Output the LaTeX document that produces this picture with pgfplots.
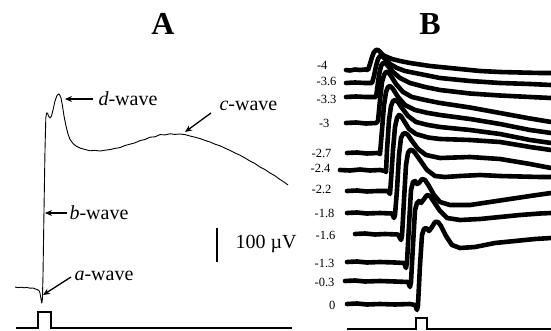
\documentclass[border=0pt]{standalone}
\usepackage{pgfplots}
\pgfplotsset{compat=1.18}
\usepackage{fontspec}
\setmainfont{Liberation Serif}
\usetikzlibrary{arrows.meta}
\tikzset{blab/.style={font=\fontsize{12.5}{14}\selectfont, anchor=east},
  lab/.style={font=\fontsize{20}{24}\selectfont, anchor=west},
  arr/.style={-{Stealth[length=7pt,width=6pt]}, line width=1.3pt}}
\pgfplotsset{btrace/.style={black, line width=4.6pt, line join=round, line cap=round}}
\begin{document}
\begin{tikzpicture}
\path[use as bounding box] (0,0) rectangle (551pt,331pt);
\begin{axis}[
  at={(0,0)}, anchor=south west,
  scale only axis, width=551pt, height=331pt,
  xmin=0, xmax=551, ymin=0, ymax=331, y dir=reverse,
  hide axis, clip=false,
]
% ---------- Panel A ----------
\addplot[black, line width=0.9pt, line join=round] coordinates {
(15,287)(18,287.6)(21,287.2)(24,287.8)(27,287.4)(30,288.2)(33,288)(35,288.8)(37,289.5)(39,290.5)(40,293)(41,299)(41.8,303)(42.4,299)
(43,275)(44,210)(45,150)(45.8,118)(46.6,113)(47.5,113)(48.5,116)(50,118)(51.5,116)(53,110)(55,101)(57,95.5)(58.5,94)(59.5,94.5)(61,98)
(62.5,106)(64,116)(66,126)(68,134)(70,139.5)(73,143.5)(76,146)(80,148)(85,149.5)(90,150.8)(95,150.4)(100,151)(105,150.2)(110,149.6)
(115,148.4)(120,147.6)(125,145.5)(130,144.2)(135,142.8)(140,140.6)(145,139.5)(150,137.2)(155,136.8)(160,134.6)(165,134.9)(170,133.8)
(175,134.4)(180,134)(185,134.6)(190,136)(195,137.2)(200,138.6)(205,140.4)(210,142)(215,144.2)(220,145.8)(225,148.2)(230,150.4)
(235,153)(240,155.2)(245,158)(250,161)(255,163.6)(260,167)(265,169.6)(270,173)(275,175.8)(280,179.5)(284,182)(288,185)
};
\addplot[black, line width=1.8pt] coordinates {(16,328)(38,328)(38,312)(51,312)(51,328)(292,328)};
\addplot[black, line width=1.8pt] coordinates {(217,228)(217,262)};
\node[lab] at (axis cs:232,244) {100 µV};
\draw[arr] (axis cs:93,99) -- (axis cs:65,99);
\node[lab] at (axis cs:95,99) {\textit{d}-wave};
\draw[arr] (axis cs:211,113) -- (axis cs:185,132);
\node[lab] at (axis cs:216,106) {\textit{c}-wave};
\draw[arr] (axis cs:67,213) -- (axis cs:45,213);
\node[lab] at (axis cs:66,213) {\textit{b}-wave};
\draw[arr] (axis cs:71,277) -- (axis cs:43,295);
\node[lab] at (axis cs:71,276) {\textit{a}-wave};
\node[font=\fontsize{32}{34}\selectfont\bfseries] at (axis cs:163,24) {A};
\node[font=\fontsize{32}{34}\selectfont\bfseries] at (axis cs:430,24) {B};
% ---------- Panel B ----------
\addplot[btrace] coordinates {(346,70)(350,70.5)(355,69.5)(360,70)(365,69.5)(368,70)(370,64)(372,57)(374,52)(376,50)(378,50)(380,52)(383,55)(387,57)(392,59)(400,61)(410,63)(420,64.5)(430,66)(440,67)(460,69)(480,71)(500,72)(520,72.5)(540,73)(551,73)};
\addplot[btrace] coordinates {(346,83)(355,82.5)(365,83)(372,83)(374,76)(376,66)(378,59)(380,56)(382,56)(385,59)(390,64)(397,68)(405,71)(420,74)(440,78)(470,81)(500,83)(530,84)(551,85)};
\addplot[btrace] coordinates {(346,97)(356,96.5)(366,97)(376,97)(377,90)(379,75)(381,66)(383,63)(385,63)(388,66)(393,72)(400,78)(410,83)(425,87)(440,90)(470,93.5)(500,95.5)(530,97)(551,98)};
\addplot[btrace] coordinates {(346,123)(356,122.5)(366,123.5)(376,123)(378,121)(380,100)(382,82)(384,75)(386,72)(388,72)(391,76)(396,84)(403,92)(412,97)(425,100)(440,103)(470,107.5)(500,113)(530,118.5)(551,122)};
\addplot[btrace] coordinates {(347,153)(357,152.5)(367,153.5)(378,153)(380,154)(382,130)(384,105)(386,92)(388,87)(390,86)(393,89)(398,97)(405,105)(415,110)(428,113)(440,115)(470,119)(500,124)(530,130)(551,133)};
\addplot[btrace] coordinates {(340,170)(350,170.5)(360,169.5)(370,170.5)(380,170)(385,171)(386,172)(387,150)(389,120)(391,106)(393,101)(395,100)(398,102)(402,108)(408,116)(416,122)(428,125)(440,127)(470,130)(500,134)(530,140)(551,143)};
\addplot[btrace] coordinates {(347,191)(357,190.5)(367,191.5)(377,191)(388,191)(390,194)(391,180)(393,150)(395,127)(397,118)(399,115)(401,116)(404,121)(409,129)(416,134)(428,137.5)(440,139)(470,140)(500,142)(530,147)(551,150)};
\addplot[btrace] coordinates {(347,213)(357,212.5)(367,213.5)(380,213)(392,213.5)(394,218)(395,215)(397,190)(399,155)(401,138)(403,134)(405,133)(408,135)(412,141)(418,149)(426,155)(440,158)(470,157)(500,159)(530,164)(551,168)};
\addplot[btrace] coordinates {(355,234)(365,233.5)(375,234.5)(385,234)(398,234.5)(401,240)(402,236)(404,200)(406,165)(408,153)(410,150)(412,150)(415,153)(420,160)(427,170)(435,176)(445,177)(460,176)(480,175)(500,176)(520,176.5)(540,177)(551,177)};
\addplot[btrace] coordinates {(347,262)(357,261.5)(367,262.5)(380,262)(395,262.5)(404,263)(406,268)(407,262)(409,225)(411,190)(413,182)(415,181)(417,184)(419,183)(422,179)(425,180)(429,186)(434,195)(440,202)(450,205)(470,205)(490,202)(510,199)(530,196)(551,193)};
\addplot[btrace] coordinates {(345,281)(355,280.5)(365,281.5)(380,281)(395,281.5)(408,282)(410,287)(411,282)(413,245)(415,210)(417,203)(419,201)(421,203)(424,199)(427,195)(430,196)(434,202)(440,211)(447,218)(460,220)(480,219)(500,217)(520,215)(540,213.5)(551,213)};
\addplot[btrace] coordinates {(347,304)(357,303.5)(367,304.5)(380,304)(395,304.5)(410,304)(415,305)(417,310)(418,305)(420,265)(422,235)(424,229)(426,228)(429,231)(432,227)(435,222)(438,222)(441,226)(446,236)(452,245)(460,248)(475,247)(495,243)(515,241)(535,239)(551,238)};
\addplot[black, line width=1.3pt] coordinates {(347,329)(416,329)(416,318)(427,318)(427,329)(551,329)};
\node[blab] at (axis cs:331,65) {-4};
\node[blab] at (axis cs:340,81) {-3.6};
\node[blab] at (axis cs:340,99) {-3.3};
\node[blab] at (axis cs:333,123) {-3};
\node[blab] at (axis cs:335,153) {-2.7};
\node[blab] at (axis cs:334,168) {-2.4};
\node[blab] at (axis cs:335,189) {-2.2};
\node[blab] at (axis cs:338,213) {-1.8};
\node[blab] at (axis cs:339,235) {-1.6};
\node[blab] at (axis cs:338,263) {-1.3};
\node[blab] at (axis cs:338,282) {-0.3};
\node[blab] at (axis cs:339,305) {0};
\end{axis}
\end{tikzpicture}
\end{document}
